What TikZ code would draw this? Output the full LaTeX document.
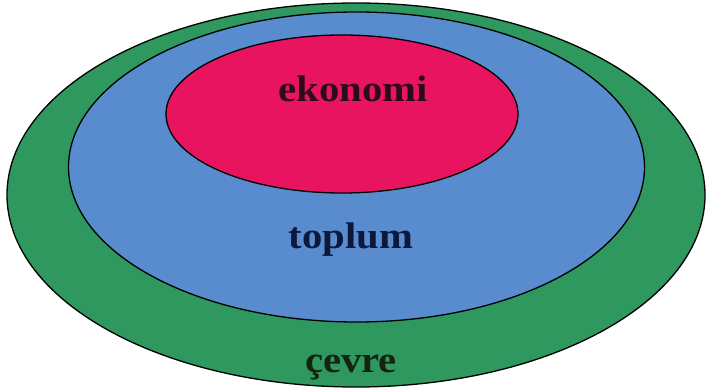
\documentclass[tikz,border=0pt]{standalone}
\usepackage{fontspec}
\setmainfont{Liberation Serif}
\definecolor{cgreen}{RGB}{46,152,94}
\definecolor{cblue}{RGB}{88,140,206}
\definecolor{cred}{RGB}{232,20,95}
\definecolor{tred}{RGB}{45,10,30}
\definecolor{tblue}{RGB}{12,25,60}
\definecolor{tgreen}{RGB}{20,35,20}
\tikzset{
  ring/.style={draw=black, line width=1.3pt},
  lbl/.style={font=\fontsize{37}{40}\selectfont\bfseries, inner sep=0pt, anchor=base, xscale=1.1}
}
\begin{document}
\begin{tikzpicture}[x=1pt,y=-1pt]
\useasboundingbox (0,0) rectangle (709,390);
\filldraw[ring, fill=cgreen] (356,195) ellipse [x radius=349, y radius=192];
\filldraw[ring, fill=cblue] (356.5,167) ellipse [x radius=288, y radius=155];
\filldraw[ring, fill=cred] (342,114) ellipse [x radius=176, y radius=79];
\node[lbl, text=tred] (eko) at (353,102) {ekonomi};
\node[lbl, text=tblue] (top) at (351,248) {toplum};
\node[lbl, text=tgreen] (cev) at (351,372) {çevre};
\end{tikzpicture}
\end{document}
